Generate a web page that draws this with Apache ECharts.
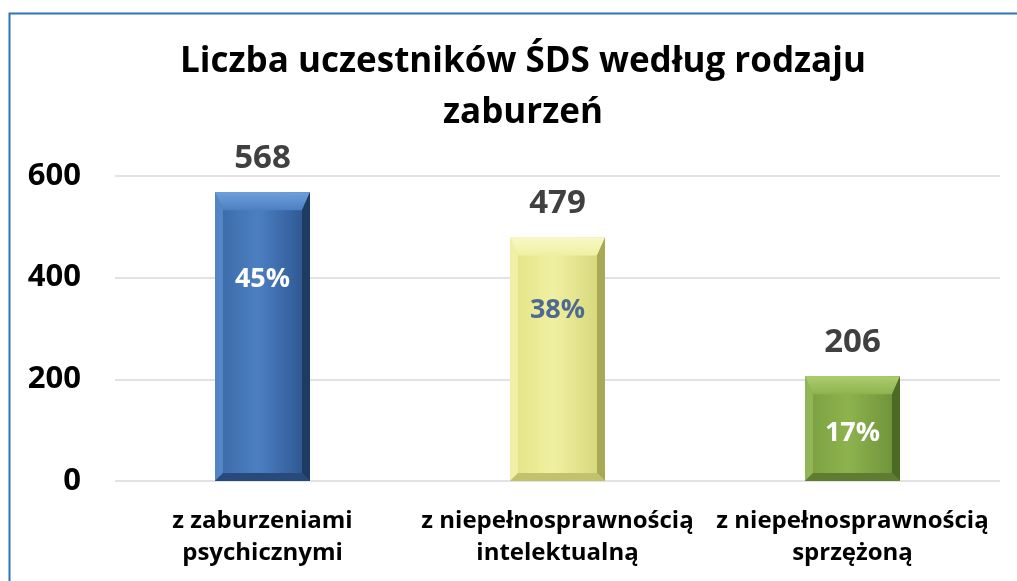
<!DOCTYPE html>
<html>
<head>
<meta charset="utf-8">
<script src="https://cdn.jsdelivr.net/npm/echarts@6/dist/echarts.min.js"></script>
<style>
  html, body { margin: 0; padding: 0; background: #fff; }
  #chart { width: 1017px; height: 581px; }
</style>
</head>
<body>
<div id="chart"></div>
<script>
// dane z wykresu
const categories = ['z zaburzeniami\npsychicznymi', 'z niepełnosprawnością\nintelektualną', 'z niepełnosprawnością\nsprzężoną']
const values = [568, 479, 206]
const percents = ['45%', '38%', '17%']
const yTicks = [0, 200, 400, 600]

// kolory słupków (bevel)
const palettes = [
  { l: '#3a68a5', c: '#4c7fc2', r: '#2b538c', top: '#6f9fdb', left: '#5a8ccc', right: '#1d3b63', bottom: '#284a7a', txt: '#ffffff' },
  { l: '#e2e284', c: '#f0f0a2', r: '#d4d478', top: '#f8f8c6', left: '#f2f2ae', right: '#a9a955', bottom: '#c2c26c', txt: '#4f6a8f' },
  { l: '#7a9e40', c: '#8db34e', r: '#6c8f37', top: '#abcd6e', left: '#97bb5c', right: '#4d6a25', bottom: '#5f7c31', txt: '#ffffff' }
]
const pctPos = [0.70, 0.70, 0.46]
const FONT = '"Open Sans"'

let dom = document.getElementById('chart')
let myChart = echarts.init(dom)

function renderBar(params, api) {
  const i = params.dataIndex
  const p = palettes[i]
  const top = api.coord([api.value(0), api.value(1)])
  const base = api.coord([api.value(0), 0])
  const w = api.size([1, 0])[0] * 0.322
  const x0 = top[0] - w / 2, x1 = top[0] + w / 2
  const y0 = top[1], y1 = base[1]
  const bt = 18, bs = 8, bb = 8
  const h = y1 - y0
  const lab = y1 - h * pctPos[i]
  return {
    type: 'group',
    children: [
      { type: 'rect', shape: { x: x0, y: y0, width: w, height: h },
        style: { fill: new echarts.graphic.LinearGradient(0, 0, 1, 0, [
          { offset: 0, color: p.l }, { offset: 0.45, color: p.c }, { offset: 1, color: p.r }]) } },
      { type: 'polygon', shape: { points: [[x0, y0], [x1, y0], [x1 - bs, y0 + bt], [x0 + bs, y0 + bt]] },
        style: { fill: new echarts.graphic.LinearGradient(0, 0, 0, 1, [
          { offset: 0, color: p.top }, { offset: 1, color: p.c }]) } },
      { type: 'polygon', shape: { points: [[x0, y0], [x0 + bs, y0 + bt], [x0 + bs, y1 - bb], [x0, y1]] },
        style: { fill: p.left, opacity: 0.8 } },
      { type: 'polygon', shape: { points: [[x1, y0], [x1, y1], [x1 - bs, y1 - bb], [x1 - bs, y0 + bt]] },
        style: { fill: p.right } },
      { type: 'polygon', shape: { points: [[x0, y1], [x0 + bs, y1 - bb], [x1 - bs, y1 - bb], [x1, y1]] },
        style: { fill: p.bottom } },
      { type: 'text', style: { x: top[0], y: y0 - 34, text: String(api.value(1)), fill: '#404040',
        font: 'bold 33px ' + FONT, align: 'center', verticalAlign: 'middle' } },
      { type: 'text', style: { x: top[0], y: lab, text: percents[i], fill: p.txt,
        font: 'bold 27px ' + FONT, align: 'center', verticalAlign: 'middle' } }
    ]
  }
}

var option
option = {
  animation: false,
  title: {
    text: 'Liczba uczestników ŚDS według rodzaju\nzaburzeń',
    left: 518,
    textAlign: 'center',
    top: 32,
    textStyle: { fontFamily: FONT, fontSize: 35, fontWeight: 'bold', color: '#000', lineHeight: 51 }
  },
  graphic: [{
    type: 'rect', left: 7, top: 11, shape: { width: 1100, height: 700 },
    style: { fill: 'none', stroke: '#2e75b6', lineWidth: 2 }, silent: true
  }],
  grid: { left: 115, right: 17, top: 176, bottom: 100 },
  xAxis: {
    type: 'category',
    data: categories,
    axisLine: { show: false },
    axisTick: { show: false },
    axisLabel: { fontFamily: FONT, fontSize: 24, fontWeight: 'bold', color: '#000', lineHeight: 32, margin: 24, interval: 0 }
  },
  yAxis: {
    type: 'value',
    min: yTicks[0],
    max: yTicks[yTicks.length - 1],
    interval: 200,
    axisLine: { show: false },
    axisTick: { show: false },
    splitLine: { lineStyle: { color: '#d9d9d9', width: 1.5 } },
    axisLabel: { fontFamily: FONT, fontSize: 31, fontWeight: 'bold', color: '#000', margin: 34 }
  },
  series: [{
    type: 'custom',
    renderItem: renderBar,
    data: values.map((v, i) => [i, v])
  }]
}
if (option && typeof option === 'object') {
  myChart.setOption(option)
}
</script>
</body>
</html>
